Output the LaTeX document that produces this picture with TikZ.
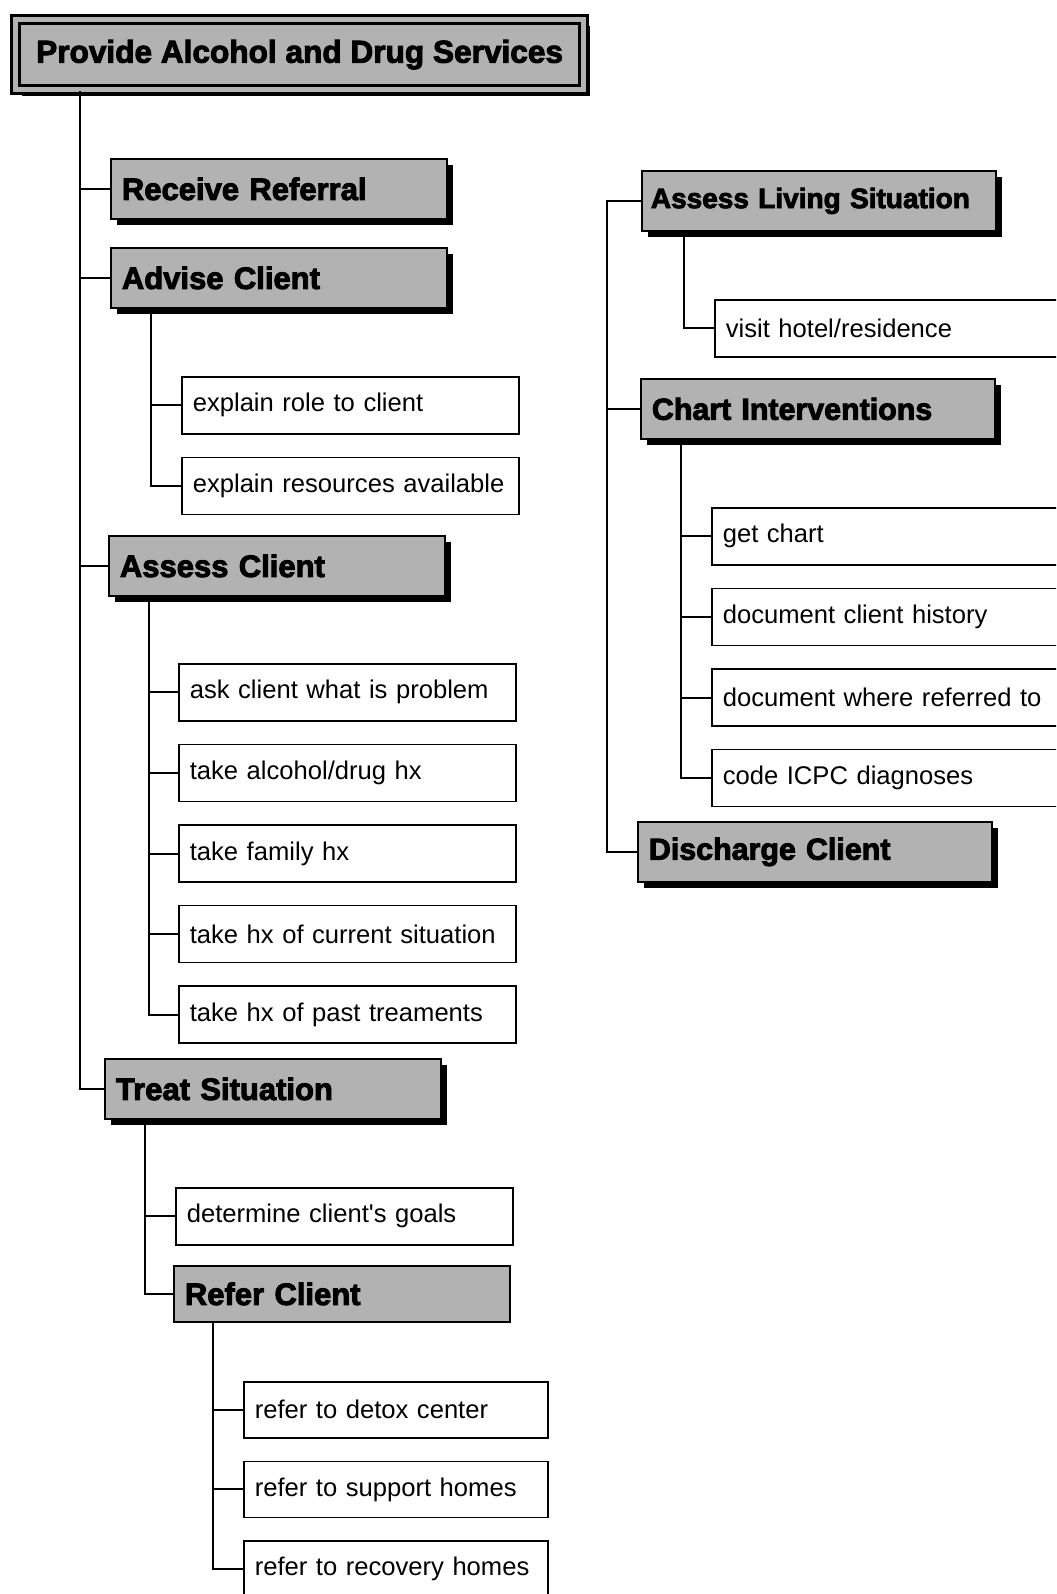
\documentclass[tikz,border=0pt]{standalone}
\usepackage{fontspec}
\setmainfont{Liberation Sans}
\newfontfamily\hdfont[FakeBold=3]{Liberation Sans Bold}
\usepackage{tikz}
\usetikzlibrary{positioning, shadows}
\definecolor{dither}{RGB}{178,178,178}

\begin{document}
\begin{tikzpicture}[x=0.5pt, y=-0.5pt,
  every node/.style={inner xsep=5.5pt, inner ysep=2pt},
  hd/.style={draw, line width=0.9pt, fill=dither, anchor=north west, align=left,
    font=\hdfont\fontsize{15.5}{18}\selectfont, text width=#1, minimum height=30pt},
  hd/.default=157pt,
  shd/.style={general shadow={fill=black, shadow xshift=3pt, shadow yshift=-3pt}},
  task/.style={draw, line width=0.8pt, fill=white, anchor=north west, align=left,
    font=\fontsize{12.8}{15}\selectfont, text width=#1, minimum height=28.5pt},
  task/.default=157.5pt,
  link/.style={line width=1pt}]
\useasboundingbox (0,0) rectangle (1056,1594);
\clip (0,0) rectangle (1056,1594);

% top of the tree
\node[draw, line width=1.6pt, double=dither, double distance=2.2pt, fill=dither, shd,
  anchor=north west, minimum width=284pt, minimum height=35pt,
  font=\hdfont\fontsize{15.8}{18}\selectfont] (root) at (14,18)
  {Provide Alcohol and Drug Services};

% left column
\node[hd, shd] (recv) at (110,158) {Receive Referral};
\node[hd, shd] (advise) at (110,247) {Advise Client};
\node[task] (role) at (181,376) {explain role to client};
\node[task, below=11pt of role.south west, anchor=north west] (res) {explain resources available};

\node[hd, shd] (assess) at (108,535) {Assess Client};
\node[task] (ask) at (178,663) {ask client what is problem};
\node[task, below=11pt of ask.south west, anchor=north west] (alc) {take alcohol/drug hx};
\node[task, below=11pt of alc.south west, anchor=north west] (fam) {take family hx};
\node[task, below=11pt of fam.south west, anchor=north west] (cur) {take hx of current situation};
\node[task, below=11pt of cur.south west, anchor=north west] (past) {take hx of past treaments};

\node[hd, shd] (treat) at (104,1058) {Treat Situation};
\node[task] (goals) at (175,1187) {determine client\textquotesingle s goals};
\node[hd, minimum height=28pt] (refer) at (173,1265) {Refer Client};
\node[task=141pt, minimum height=28pt] (detox) at (243,1381) {refer to detox center};
\node[task=141pt, minimum height=28pt, below=11pt of detox.south west, anchor=north west] (supp) {refer to support homes};
\node[task=141pt, minimum height=28pt, below=11pt of supp.south west, anchor=north west] (recov) {refer to recovery homes};

% right column
\node[hd=168pt, shd, inner xsep=4.5pt, font=\hdfont\fontsize{14}{17}\selectfont] (als) at (641,170) {Assess Living Situation};
\node[task=190pt] (visit) at (714,299) {visit hotel/residence};
\node[hd=166pt, shd, font=\hdfont\fontsize{15.2}{18}\selectfont] (chart) at (640,378) {Chart Interventions};
\node[task=190pt] (getc) at (711,507) {get chart};
\node[task=190pt, below=11pt of getc.south west, anchor=north west] (hist) {document client history};
\node[task=190pt, below=11pt of hist.south west, anchor=north west] (where) {document where referred to};
\node[task=190pt, below=11pt of where.south west, anchor=north west] (icpc) {code ICPC diagnoses};
\node[hd=166pt, shd, font=\hdfont\fontsize{15.2}{18}\selectfont] (disch) at (637,821) {Discharge Client};

% connectors
\coordinate (rt) at ([xshift=33pt]root.south west);
\draw[link] (rt) |- (treat.west);
\foreach \n in {recv, advise, assess} \draw[link] (\n.west) -- (\n.west -| rt);

\coordinate (adv-t) at ([xshift=20.5pt]advise.south west);
\draw[link] (adv-t) |- (res.west);
\draw[link] (role.west) -- (role.west -| adv-t);

\coordinate (as-t) at ([xshift=20.5pt]assess.south west);
\draw[link] (as-t) |- (past.west);
\foreach \n in {ask, alc, fam, cur} \draw[link] (\n.west) -- (\n.west -| as-t);

\coordinate (tr-t) at ([xshift=20.5pt]treat.south west);
\draw[link] (tr-t) |- (refer.west);
\draw[link] (goals.west) -- (goals.west -| tr-t);

\coordinate (rf-t) at ([xshift=20pt]refer.south west);
\draw[link] (rf-t) |- (recov.west);
\foreach \n in {detox, supp} \draw[link] (\n.west) -- (\n.west -| rf-t);

\coordinate (rr) at ([xshift=-17pt]als.west);
\draw[link] (als.west) -- (rr) |- (disch.west);
\draw[link] (chart.west) -- (chart.west -| rr);

\coordinate (al-t) at ([xshift=21.5pt]als.south west);
\draw[link] (al-t) |- (visit.west);

\coordinate (ch-t) at ([xshift=20.5pt]chart.south west);
\draw[link] (ch-t) |- (icpc.west);
\foreach \n in {getc, hist, where} \draw[link] (\n.west) -- (\n.west -| ch-t);
\end{tikzpicture}
\end{document}
